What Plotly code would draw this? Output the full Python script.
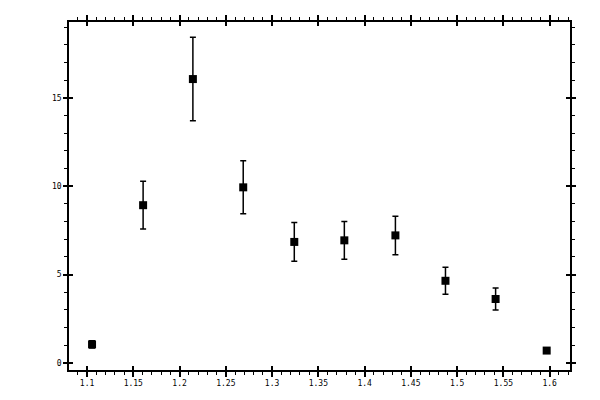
import plotly.graph_objects as go

# ── data ────────────────────────────────────────────────────────────────────
X_VALUES = [1.1054, 1.1606, 1.2144, 1.2688, 1.3240, 1.3781, 1.4333, 1.4874, 1.5416, 1.5968]
Y_VALUES = [1.05, 8.93, 16.07, 9.94, 6.85, 6.94, 7.22, 4.65, 3.62, 0.70]
Y_ERRORS = [0.20, 1.35, 2.36, 1.50, 1.10, 1.07, 1.09, 0.76, 0.62, 0.0]

X_RANGE = [1.0805, 1.622]
Y_RANGE = [-0.4, 19.3]

FONT = dict(family="DejaVu Sans Mono", size=8, color="black")

fig = go.Figure()

fig.add_trace(go.Scatter(
    x=X_VALUES, y=Y_VALUES,
    mode="markers",
    marker=dict(symbol="square", size=8, color="black"),
    error_y=dict(type="data", array=Y_ERRORS, visible=True,
                 color="black", thickness=1.5, width=3),
    showlegend=False,
    hoverinfo="x+y",
))

# empty trace so the overlay axes (inside ticks) get drawn
fig.add_trace(go.Scatter(x=[], y=[], xaxis="x2", yaxis="y2", showlegend=False))

axis_common = dict(
    showgrid=False, zeroline=False,
    linecolor="black", linewidth=1.5,
    tickcolor="black", tickwidth=1.5,
    tickfont=FONT,
)

# page body has an 8px margin, so the margins are shifted to compensate
fig.update_layout(
    width=600, height=400,
    margin=dict(l=61, r=38, t=7, b=38),
    paper_bgcolor="white", plot_bgcolor="white",
    font=FONT,
    xaxis=dict(
        **axis_common,
        range=X_RANGE, dtick=0.05, tick0=1.0,
        ticks="outside", ticklen=5, mirror="ticks", showline=True,
        minor=dict(dtick=0.01, ticks="outside", ticklen=3,
                   tickcolor="black", tickwidth=1.2),
    ),
    yaxis=dict(
        **axis_common,
        range=Y_RANGE, dtick=5, tick0=0,
        ticks="outside", ticklen=4, mirror="ticks", showline=True,
        minor=dict(dtick=1, ticks="outside", ticklen=3,
                   tickcolor="black", tickwidth=1.2),
    ),
    xaxis2=dict(
        range=X_RANGE, dtick=0.05, tick0=1.0, overlaying="x", anchor="y2",
        ticks="inside", ticklen=4, tickcolor="black", tickwidth=1.5,
        mirror="ticks", showline=False, showgrid=False, zeroline=False,
        showticklabels=False,
    ),
    yaxis2=dict(
        range=Y_RANGE, dtick=5, tick0=0, overlaying="y", anchor="x2",
        ticks="inside", ticklen=4, tickcolor="black", tickwidth=1.5,
        mirror="ticks", showline=False, showgrid=False, zeroline=False,
        showticklabels=False,
    ),
)

fig.write_html("out.html")
